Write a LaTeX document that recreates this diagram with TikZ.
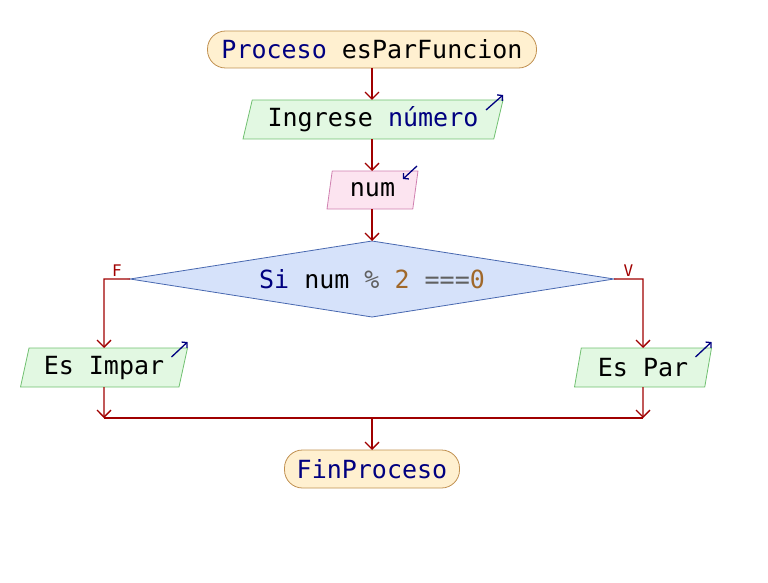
\documentclass[tikz,border=0pt]{standalone}
\usepackage{fontspec}
\setmonofont{DejaVu Sans Mono}
\usepackage{tikz}
\usetikzlibrary{shapes.geometric,arrows.meta}
\definecolor{flowred}{HTML}{A00000}
\definecolor{kwblue}{HTML}{000080}
\definecolor{opgrey}{HTML}{606060}
\definecolor{numbrown}{HTML}{A0682A}
\definecolor{termfill}{HTML}{FFF0D0}
\definecolor{termdraw}{HTML}{C09050}
\definecolor{outfill}{HTML}{E2F8E2}
\definecolor{outdraw}{HTML}{70C070}
\definecolor{infill}{HTML}{FCE4F0}
\definecolor{indraw}{HTML}{D080B0}
\definecolor{siffill}{HTML}{D6E2FA}
\definecolor{sifdraw}{HTML}{4868B0}

\tikzset{
  flow/.style={draw=flowred, line width=1.3pt, -{Straight Barb[length=7pt,width=14pt]}},
  joinline/.style={draw=flowred, line width=1.3pt},
  terminal/.style={draw=termdraw, fill=termfill, line width=0.8pt, rounded corners=18pt,
    minimum height=37pt, inner sep=0pt, outer sep=0pt},
  salida/.style={trapezium, trapezium left angle=70, trapezium right angle=110,
    trapezium stretches body=true, draw=outdraw, fill=outfill, line width=0.8pt,
    minimum height=39pt, inner sep=0pt, outer sep=0pt},
  entrada/.style={salida, draw=indraw, fill=infill},
  decision/.style={diamond, shape aspect=6.4, draw=sifdraw, fill=siffill, line width=0.8pt,
    minimum width=484pt, minimum height=76pt, inner sep=0pt, outer sep=0pt},
  icono/.style={draw=kwblue, line width=1.3pt, -{Straight Barb[length=3.5pt,width=8pt]}},
  rama/.style={text=flowred, font=\ttfamily\fontsize{16}{18}\selectfont, inner sep=2pt}
}

\begin{document}
\begin{tikzpicture}[x=1pt, y=-1pt, font=\ttfamily\fontsize{25}{30}\selectfont]
      \useasboundingbox (0,0) rectangle (768,583);

      \node[terminal, minimum width=329pt] (inicio) at (372,49.5)
        {\textcolor{kwblue}{Proceso} esParFuncion};
      \node[salida, minimum width=260pt] (msj) at (373,119.5)
        {Ingrese \textcolor{kwblue}{número}};
      \node[entrada, minimum width=91pt, minimum height=38pt] (leer) at (372.5,190) {num};
      \node[decision] (si) at (372,279)
        {\textcolor{kwblue}{Si} num \textcolor{opgrey}{\%} \textcolor{numbrown}{2} \textcolor{opgrey}{===}\textcolor{numbrown}{0}};
      \node[salida, minimum width=167pt] (impar) at (104,367.5) {Es Impar};
      \node[salida, minimum width=137pt] (par) at (643,367.5) {Es Par};
      \node[terminal, minimum width=175pt, minimum height=38pt] (fin) at (372,469)
        {\textcolor{kwblue}{FinProceso}};
      \coordinate (union) at (372,418);

      \draw[flow] (inicio.south) -- (inicio.south |- msj.north);
      \draw[flow] (inicio.south |- msj.south) -- (inicio.south |- leer.north);
      \draw[flow] (inicio.south |- leer.south) -- (si.north);
      \draw[flow] (si.west) -- node[rama, above] (falso) {F} (si.west -| impar) -- (impar);
      \draw[flow] (si.east) -- node[rama, above] (verdad) {V} (si.east -| par) -- (par);
      \draw[flow] (impar) -- (impar |- union);
      \draw[flow] (par) -- (par |- union);
      \draw[joinline] (impar |- union) -- (par |- union);
      \draw[flow] (union) -- (fin);

      \draw[icono] ([shift={(-17,10)}]msj.top right corner) -- ([shift={(0,-5)}]msj.top right corner);
      \draw[icono] ([shift={(-1,-5)}]leer.top right corner) -- ([shift={(-15,8)}]leer.top right corner);
      \draw[icono] ([shift={(-16,9)}]impar.top right corner) -- ([shift={(0,-6)}]impar.top right corner);
      \draw[icono] ([shift={(-16,9)}]par.top right corner) -- ([shift={(0,-6)}]par.top right corner);
    \end{tikzpicture}
\end{document}
